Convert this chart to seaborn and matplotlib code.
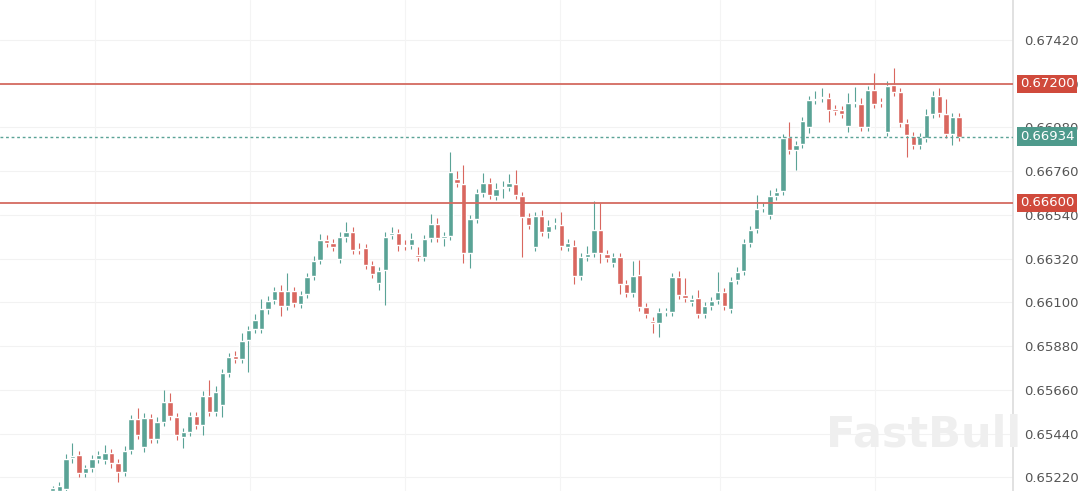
import numpy as np
import pandas as pd
import matplotlib
matplotlib.use("Agg")
import matplotlib.pyplot as plt
import seaborn as sns

# prices in units of 1e-5
opens = [65152, 65152, 65162, 65318, 65333, 65242, 65267, 65313, 65307, 65343,
         65292, 65247, 65358, 65514, 65373, 65519, 65413, 65499, 65599, 65524,
         65423, 65448, 65529, 65484, 65629, 65549, 65584, 65745, 65831, 65815,
         65911, 65966, 65966, 66067, 66112, 66157, 66082, 66157, 66092, 66142,
         66233, 66313, 66414, 66399, 66318, 66429, 66454, 66369, 66374, 66288,
         66198, 66263, 66439, 66449, 66389, 66389, 66339, 66329, 66424, 66495,
         66424, 66434, 66721, 66696, 66349, 66520, 66650, 66701, 66635, 66676,
         66681, 66696, 66635, 66530, 66379, 66535, 66454, 66495, 66490, 66379,
         66384, 66233, 66329, 66349, 66464, 66344, 66298, 66329, 66193, 66147,
         66238, 66077, 66007, 65997, 66052, 66052, 66228, 66137, 66102, 66122,
         66042, 66082, 66112, 66152, 66067, 66213, 66258, 66399, 66469, 66575,
         66540, 66635, 66660, 66932, 66867, 66897, 66982, 67118, 67128, 67128,
         67073, 67068, 66987, 67103, 67098, 66982, 67168, 67108, 66957, 67194,
         67158, 67002, 66937, 66892, 66927, 67048, 67138, 67048, 66947, 67033]
closes = [65167, 65177, 65313, 65328, 65242, 65267, 65313, 65333, 65343, 65292,
          65247, 65353, 65514, 65433, 65519, 65413, 65499, 65599, 65529, 65433,
          65448, 65529, 65484, 65629, 65549, 65649, 65745, 65826, 65815, 65906,
          65961, 66012, 66067, 66107, 66157, 66082, 66157, 66097, 66137, 66228,
          66308, 66414, 66399, 66379, 66429, 66454, 66364, 66364, 66288, 66243,
          66258, 66429, 66449, 66389, 66384, 66419, 66329, 66419, 66495, 66424,
          66434, 66756, 66701, 66349, 66520, 66650, 66701, 66640, 66671, 66681,
          66701, 66640, 66530, 66490, 66535, 66454, 66485, 66500, 66384, 66399,
          66233, 66329, 66344, 66464, 66349, 66323, 66329, 66193, 66147, 66233,
          66077, 66042, 65997, 66052, 66052, 66228, 66137, 66122, 66117, 66042,
          66082, 66107, 66152, 66082, 66208, 66253, 66399, 66464, 66570, 66580,
          66635, 66655, 66927, 66867, 66892, 67013, 67118, 67123, 67133, 67068,
          67063, 67048, 67103, 67103, 66982, 67168, 67098, 67103, 67189, 67158,
          67002, 66942, 66892, 66932, 67043, 67138, 67053, 66947, 67033, 66934]
# wick lengths above/below the body, same units
wick_up = [10, 20, 25, 65, 20, 15, 20, 20, 40, 20,
           20, 25, 20, 55, 25, 20, 25, 60, 45, 20,
           20, 20, 20, 25, 80, 30, 20, 20, 25, 40,
           20, 30, 50, 25, 20, 30, 90, 20, 20, 20,
           25, 30, 25, 20, 25, 50, 25, 30, 20, 20,
           20, 25, 30, 20, 25, 30, 40, 20, 50, 30,
           20, 100, 40, 95, 20, 20, 50, 25, 30, 30,
           45, 70, 20, 20, 20, 30, 30, 25, 65, 20,
           30, 20, 40, 145, 135, 20, 20, 20, 20, 75,
           75, 20, 20, 20, 20, 20, 30, 85, 20, 40,
           20, 20, 100, 20, 20, 25, 20, 20, 70, 20,
           30, 20, 20, 75, 20, 20, 20, 40, 45, 25,
           20, 20, 50, 80, 30, 20, 85, 20, 25, 85,
           20, 20, 20, 20, 30, 25, 40, 75, 20, 20]
wick_dn = [10, 15, 20, 25, 20, 20, 20, 20, 20, 25,
           50, 20, 20, 20, 25, 20, 20, 20, 20, 25,
           55, 20, 20, 50, 20, 20, 60, 20, 20, 20,
           160, 20, 20, 25, 20, 50, 20, 20, 20, 20,
           20, 20, 20, 20, 20, 25, 20, 20, 20, 20,
           35, 175, 20, 30, 20, 20, 20, 20, 20, 20,
           40, 20, 20, 50, 75, 20, 20, 20, 20, 50,
           20, 20, 200, 20, 20, 20, 30, 25, 20, 20,
           40, 20, 20, 20, 50, 20, 20, 50, 20, 20,
           20, 20, 50, 70, 20, 20, 20, 20, 20, 20,
           20, 20, 20, 20, 20, 20, 20, 20, 20, 20,
           20, 20, 20, 20, 100, 20, 30, 20, 20, 60,
           20, 20, 30, 20, 20, 20, 20, 20, 20, 20,
           20, 110, 20, 20, 20, 20, 20, 20, 55, 20]

ticks = [67420, 67200, 66980, 66760, 66540, 66320, 66100, 65880, 65660, 65440, 65220]
levels = [67200, 66600]
last_price = 66934

df = pd.DataFrame({"open": opens, "close": closes, "up": wick_up, "dn": wick_dn}) / 1e5
df["i"] = np.arange(1, len(df) + 1)
df["high"] = df[["open", "close"]].max(axis=1) + df.up
df["low"] = df[["open", "close"]].min(axis=1) - df.dn

green = "#5aa396"
red = "#d9675f"
df["color"] = np.where(df.close >= df.open, green, red)

sns.set_theme(style="white")
fig = plt.figure(figsize=(10.8, 4.91), dpi=100)
ax = fig.add_axes([0, 0, 1013 / 1080, 1])
ymin, ymax = 0.65151, 0.67621

for t in ticks:
    ax.axhline(t / 1e5, color="#f2f2f2", lw=0.8, zorder=0)
for xv in [95, 250, 405, 560, 720, 875]:
    ax.axvline((xv - 53) / 6.52 + 1, color="#f4f4f4", lw=0.8, zorder=0)

ax.vlines(df.i, df.low, df.high, colors=df.color, lw=0.8, zorder=2)
body = (df.close - df.open).abs().clip(lower=0.000025)
ax.bar(df.i, body, bottom=df[["open", "close"]].min(axis=1), width=0.82,
       color=df.color, zorder=3)

for lv in levels:
    ax.axhline(lv / 1e5, color="#d46a60", lw=1.3, zorder=4)
ax.axhline(last_price / 1e5, color=green, lw=1, ls=(0, (2, 2)), zorder=4)

ax.set_xlim(-7.1, 148.3)
ax.set_ylim(ymin, ymax)
ax.set_xticks([])
ax.yaxis.tick_right()
ax.set_yticks([t / 1e5 for t in ticks])
ax.set_yticklabels([f"{t / 1e5:.5f}" for t in ticks], color="#555555", fontsize=9.5)
ax.tick_params(axis="y", length=0, pad=8)
for s in ["top", "left", "bottom"]:
    ax.spines[s].set_visible(False)
ax.spines["right"].set_color("#dddddd")

# price tags drawn on top of the tick labels
for val, col in [(67200, "#d04a3c"), (66600, "#d04a3c"), (last_price, "#4e9a8c")]:
    fy = (val / 1e5 - ymin) / (ymax - ymin)
    fig.text(1020 / 1080, fy, f"{val / 1e5:.5f}", ha="left", va="center",
             color="white", fontsize=9.5, zorder=6,
             bbox=dict(boxstyle="square,pad=0.2", fc=col, ec="none"))

fig.text(0.855, 0.115, "FastBull", fontsize=31, fontweight="bold", color="#efefef",
         ha="center", va="center", zorder=1)

fig.savefig("out.png", dpi=100)
